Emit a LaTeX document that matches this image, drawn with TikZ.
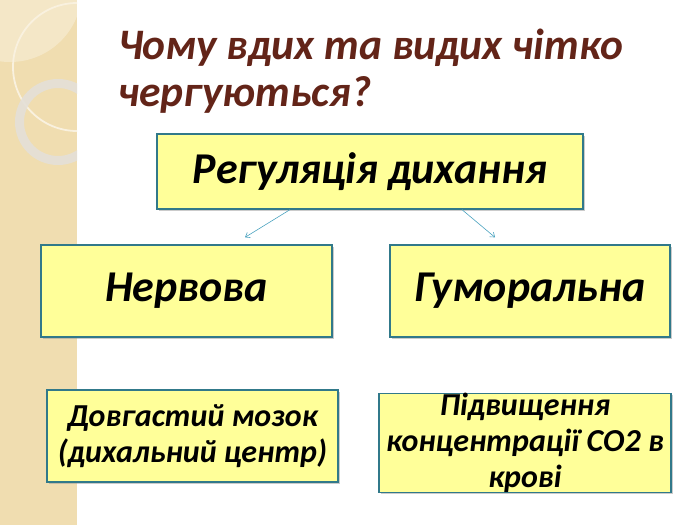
\documentclass[tikz,border=0pt]{standalone}
\usepackage{fontspec}
\setmainfont{Carlito}
\usepackage{tikz}
\usepackage{xcolor}
\usetikzlibrary{arrows.meta,shadows}
\definecolor{stripe}{HTML}{F0DDB0}
\definecolor{titlered}{HTML}{632418}
\definecolor{boxfill}{HTML}{FFFF99}
\definecolor{boxline}{HTML}{31798A}
\definecolor{arrline}{HTML}{4BA3C0}
\definecolor{ring}{HTML}{E4E0D8}
\tikzset{box/.style={draw=boxline,line width=1.3pt,fill=boxfill,
    drop shadow={shadow xshift=1.5pt,shadow yshift=-1.5pt,fill=black!40,opacity=0.5},
    inner sep=0pt,font=\bfseries\itshape},
    bigbox/.style={box,font=\fontsize{44}{48}\selectfont\bfseries\itshape},
    smallbox/.style={box,align=center,font=\fontsize{32}{36}\selectfont\bfseries\itshape},
    title/.style={anchor=north west,align=left,inner sep=0pt,text=titlered,
    font=\fontsize{43.5}{47}\selectfont\bfseries\itshape},
    arr/.style={draw=arrline,line width=0.6pt,-{Straight Barb[length=4pt,width=6pt]}}}
\begin{document}
\begin{tikzpicture}[x=1pt,y=-1pt]
	\useasboundingbox[fill=white] (0,0) rectangle (700,525);
	\begin{scope}
		\clip (0,0) rectangle (77,525);
		\fill[stripe] (0,0) rectangle (77,525);
		\fill[white,opacity=0.3] (10,-10) circle (72);
		\draw[white!60!stripe,line width=1.8pt] (77,67) circle (64);
		\draw[ring,opacity=0.9,line width=9pt] (58,122) circle (38.5);
	\end{scope}
	\node[title] (q) at (118,29) {Чому вдих та видих чітко\\чергуються?};
	\node[bigbox,minimum width=426pt,minimum height=75pt] (reg) at (370,171.5) {Регуляція дихання};
	\node[bigbox,minimum width=291pt,minimum height=92pt] (nerv) at (186.5,291) {Нервова};
	\node[bigbox,minimum width=280pt,minimum height=92pt] (hum) at (530,291) {Гуморальна};
	\node[smallbox,minimum width=291pt,minimum height=92pt] (dovh) at (192.5,436) {Довгастий мозок\\(дихальний центр)};
	\node[smallbox,minimum width=292pt,minimum height=94pt] (pidv) at (525,443) {Підвищення\\концентрації СО2 в\\крові};
	\draw[arr] ([xshift=-80pt]reg.south) -- ([xshift=58.5pt,yshift=7pt]nerv.north);
	\draw[arr] ([xshift=92pt]reg.south) -- ([xshift=-35pt,yshift=7pt]hum.north);
\end{tikzpicture}
\end{document}
